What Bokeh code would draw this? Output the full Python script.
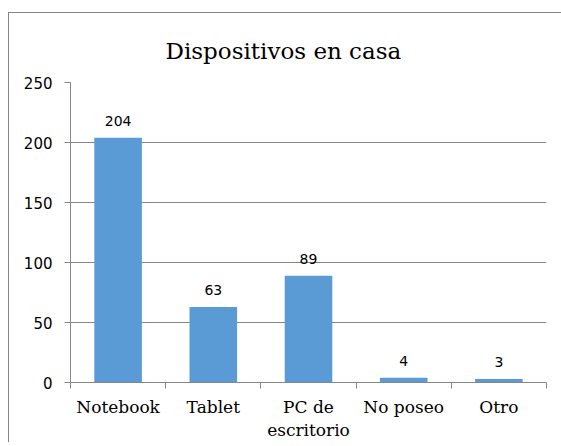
from bokeh.plotting import figure
from bokeh.models import Range1d, FixedTicker, LabelSet, ColumnDataSource
from bokeh.core.properties import value
from bokeh.embed import file_html
from bokeh.resources import INLINE

categories = ["Notebook", "Tablet", "PC de\nescritorio", "No poseo", "Otro"]
values = [204, 63, 89, 4, 3]
y_ticks = [0, 50, 100, 150, 200, 250]
title_text = "Dispositivos en casa"

xs = [i + 0.5 for i in range(len(categories))]
bounds = [float(i) for i in range(len(categories) + 1)]
src = ColumnDataSource(dict(x=xs, top=values, label=[str(v) for v in values]))

GRAY = "#868686"
BAR = "#5B9BD5"
SERIF = "'DejaVu Serif'"
SANS = "'DejaVu Sans'"

p = figure(frame_width=476, frame_height=300, output_backend="svg", toolbar_location=None,
           x_range=Range1d(0, len(categories)), y_range=Range1d(0, 250),
           min_border_left=61, min_border_right=15, min_border_top=69,
           min_border_bottom=50,
           styles={"margin-left": "8px", "margin-top": "12px",
                   "border-left": f"1px solid {GRAY}", "border-top": f"1px solid {GRAY}"})

p.outline_line_color = None
p.background_fill_color = "white"
p.border_fill_color = "white"

p.title.text = title_text
p.title.align = "left"
p.title.offset = 95
p.title.text_font = SERIF
p.title.text_font_size = "23px"
p.title.text_font_style = "normal"
p.title.text_color = "black"
p.title.text_line_height = 0.7
p.title.standoff = 38

p.vbar(x="x", top="top", width=0.5, source=src, fill_color=BAR, line_color=None)

labels = LabelSet(x="x", y="top", text="label", source=src, text_align="center",
                  text_baseline="alphabetic", y_offset=12,
                  text_font=value(SANS), text_font_size=value("14px"),
                  text_color="black")
p.add_layout(labels)

# x axis
p.xaxis.ticker = FixedTicker(ticks=xs, minor_ticks=bounds)
p.xaxis.major_label_overrides = {x: c for x, c in zip(xs, categories)}
p.xaxis.axis_line_color = GRAY
p.xaxis.major_tick_line_color = None
p.xaxis.major_tick_in = 0
p.xaxis.major_tick_out = 0
p.xaxis.minor_tick_in = 0
p.xaxis.minor_tick_out = 6
p.xaxis.minor_tick_line_color = GRAY
p.xaxis.major_label_standoff = 8
p.xaxis.major_label_text_font = SERIF
p.xaxis.major_label_text_font_size = "17px"
p.xaxis.major_label_text_line_height = 1.15
p.xaxis.major_label_text_color = "black"

# y axis
p.yaxis.ticker = FixedTicker(ticks=y_ticks)
p.yaxis.axis_line_color = GRAY
p.yaxis.major_tick_line_color = GRAY
p.yaxis.major_tick_in = 0
p.yaxis.major_tick_out = 6
p.yaxis.minor_tick_line_color = None
p.yaxis.major_label_standoff = 12
p.yaxis.major_label_text_font = SANS
p.yaxis.major_label_text_font_size = "15px"
p.yaxis.major_label_text_color = "black"

p.xgrid.visible = False
p.ygrid.ticker = FixedTicker(ticks=y_ticks)
p.ygrid.grid_line_color = GRAY
p.ygrid.grid_line_width = 1

open("out.html", "w").write(file_html(p, INLINE))
